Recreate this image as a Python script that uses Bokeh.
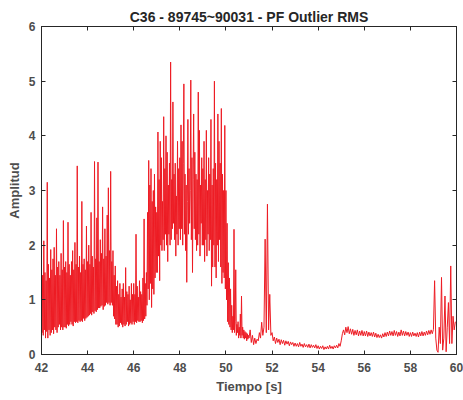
import numpy as np
from bokeh.plotting import figure
from bokeh.models import LinearAxis, FixedTicker, ColumnDataSource, Range1d
from bokeh.embed import file_html
from bokeh.resources import INLINE

title_text = "C36 - 89745~90031 - PF Outlier RMS"
x_label = "Tiempo [s]"
y_label = "Amplitud"
x_ticks = [42, 44, 46, 48, 50, 52, 54, 56, 58, 60]
y_ticks = [0, 1, 2, 3, 4, 5, 6]

# sampling: dense part 42-51 s (step 0.025 s), calm part 51-60 s (step 0.05 s)
dense_start, dense_step = 42.0, 0.025
calm_start, calm_step = 51.0, 0.05

# amplitude, dense part: one row per second (42 ... 50)
amp_42 = [1.60, 0.40, 1.45, 0.35, 2.08, 0.45, 1.50, 0.30, 1.35, 0.42,
          3.15, 0.30, 1.65, 0.45, 1.40, 0.35, 1.92, 0.40, 1.55, 0.45,
          1.75, 0.38, 1.96, 0.50, 1.45, 0.45, 2.30, 0.40, 1.60, 0.50,
          1.70, 0.55, 1.45, 0.45, 1.85, 0.50, 1.55, 0.45, 2.45, 0.50]
amp_43 = [1.60, 0.50, 1.70, 0.48, 1.50, 0.55, 2.42, 0.52, 1.65, 0.55,
          1.45, 0.60, 1.70, 0.55, 1.90, 0.52, 1.55, 0.60, 2.05, 0.58,
          1.65, 0.60, 3.45, 0.58, 1.60, 0.62, 1.80, 0.60, 1.50, 0.62,
          2.80, 0.60, 1.65, 0.66, 1.75, 0.62, 1.55, 0.66, 2.35, 0.68]
amp_44 = [1.70, 0.70, 2.00, 0.72, 1.65, 0.75, 2.60, 0.72, 1.80, 0.78,
          1.60, 0.75, 3.53, 0.80, 1.75, 0.78, 2.50, 0.82, 3.52, 0.85,
          1.70, 0.85, 2.10, 0.88, 1.85, 0.90, 2.70, 0.82, 1.75, 0.88,
          2.30, 0.90, 1.80, 0.95, 2.55, 0.92, 3.05, 0.95, 1.90, 0.90]
amp_45 = [3.35, 0.95, 1.70, 0.90, 1.90, 0.70, 1.45, 0.65, 1.62, 0.55,
          1.25, 0.55, 1.35, 0.50, 1.10, 0.52, 1.30, 0.58, 1.05, 0.55,
          1.20, 0.50, 1.30, 0.55, 1.05, 0.52, 1.59, 0.55, 1.15, 0.60,
          1.10, 0.52, 1.25, 0.55, 1.00, 0.58, 1.30, 0.55, 1.10, 0.60]
amp_46 = [1.30, 0.55, 1.10, 0.60, 2.20, 0.58, 1.25, 0.62, 1.05, 0.60,
          1.35, 0.60, 1.15, 0.62, 1.10, 0.58, 1.40, 0.62, 2.48, 0.65,
          1.30, 0.70, 1.50, 0.90, 2.60, 1.20, 3.55, 1.00, 3.10, 1.30,
          3.40, 0.86, 2.80, 1.20, 3.00, 1.10, 3.30, 1.40, 2.70, 1.50]
amp_47 = [2.60, 1.50, 4.07, 1.80, 3.20, 1.35, 3.90, 2.00, 3.60, 1.90,
          2.80, 2.10, 4.35, 1.90, 3.40, 2.20, 4.00, 2.00, 3.70, 1.70,
          3.10, 2.20, 3.50, 2.00, 5.35, 2.10, 3.20, 2.30, 4.62, 2.40,
          3.30, 2.10, 3.50, 1.80, 2.90, 2.20, 3.90, 2.00, 3.40, 2.30]
amp_48 = [3.60, 2.10, 4.20, 2.30, 3.90, 2.00, 3.50, 4.95, 2.20, 3.30,
          1.90, 3.10, 1.32, 2.80, 4.30, 2.20, 3.40, 2.40, 3.00, 5.02,
          2.10, 3.60, 1.50, 3.20, 4.40, 2.30, 3.70, 2.10, 3.30, 1.90,
          3.20, 2.00, 4.80, 2.20, 4.10, 1.80, 3.10, 2.40, 3.60, 2.00]
amp_49 = [3.40, 2.00, 3.90, 1.70, 3.20, 2.10, 4.10, 1.80, 3.00, 2.20,
          3.60, 1.90, 3.30, 2.10, 4.30, 1.25, 3.10, 1.60, 3.40, 2.00,
          5.00, 1.60, 3.50, 1.40, 3.20, 2.00, 4.40, 1.70, 3.90, 2.10,
          3.50, 1.60, 4.50, 1.30, 3.30, 1.50, 3.00, 1.40, 4.19, 1.20]
amp_50 = [3.00, 1.00, 2.40, 0.60, 1.68, 0.55, 1.40, 0.50, 1.20, 0.45,
          0.90, 0.40, 0.70, 0.45, 2.29, 0.40, 0.60, 1.55, 0.35, 0.55,
          0.40, 0.60, 0.30, 0.50, 0.35, 0.74, 0.30, 1.07, 0.35, 0.50,
          0.30, 0.45, 0.28, 0.42, 0.30, 0.40, 0.25, 0.38, 0.28, 0.35]

# calm part: one row per second (51 ... 59)
amp_51 = [0.30, 0.45, 0.22, 0.35, 0.18, 0.30, 0.20, 0.28, 0.25, 0.40, 0.30, 0.59, 0.35, 0.50, 2.11, 0.40, 2.75, 0.45, 1.10, 0.35]
amp_52 = [0.40, 0.25, 0.32, 0.20, 0.30, 0.22, 0.28, 0.18, 0.27, 0.20, 0.26, 0.17, 0.25, 0.19, 0.24, 0.16, 0.23, 0.18, 0.22, 0.15]
amp_53 = [0.21, 0.15, 0.20, 0.14, 0.22, 0.15, 0.19, 0.13, 0.20, 0.14, 0.18, 0.13, 0.19, 0.12, 0.18, 0.13, 0.17, 0.12, 0.18, 0.11]
amp_54 = [0.16, 0.10, 0.15, 0.11, 0.16, 0.09, 0.14, 0.10, 0.15, 0.10, 0.17, 0.11, 0.15, 0.10, 0.16, 0.12, 0.17, 0.12, 0.20, 0.15]
amp_55 = [0.25, 0.38, 0.45, 0.36, 0.50, 0.40, 0.51, 0.38, 0.47, 0.37, 0.46, 0.35, 0.44, 0.36, 0.45, 0.34, 0.43, 0.35, 0.44, 0.34]
amp_56 = [0.42, 0.34, 0.43, 0.33, 0.41, 0.34, 0.40, 0.33, 0.41, 0.32, 0.39, 0.31, 0.37, 0.31, 0.36, 0.30, 0.38, 0.32, 0.40, 0.33]
amp_57 = [0.41, 0.34, 0.43, 0.35, 0.42, 0.34, 0.44, 0.35, 0.42, 0.33, 0.41, 0.34, 0.45, 0.35, 0.43, 0.34, 0.42, 0.35, 0.41, 0.33]
amp_58 = [0.40, 0.33, 0.41, 0.34, 0.39, 0.33, 0.40, 0.32, 0.41, 0.34, 0.42, 0.34, 0.41, 0.35, 0.43, 0.36, 0.44, 0.37, 0.45, 0.38]
amp_59 = [0.46, 1.35, 0.30, 0.08, 0.04, 0.50, 0.20, 1.41, 0.08, 0.30, 1.07, 0.05, 0.50, 0.95, 0.20, 1.62, 0.20, 0.70, 0.45, 0.60]

dense_amp = amp_42 + amp_43 + amp_44 + amp_45 + amp_46 + amp_47 + amp_48 + amp_49 + amp_50
calm_amp = amp_51 + amp_52 + amp_53 + amp_54 + amp_55 + amp_56 + amp_57 + amp_58 + amp_59

time = np.concatenate([dense_start + dense_step * np.arange(len(dense_amp)),
                       calm_start + calm_step * np.arange(len(calm_amp))])
amplitude = dense_amp + calm_amp

src = ColumnDataSource(dict(t=time, a=amplitude))

FONT = "Liberation Sans"
AX_COLOR = "#262626"
LBL_COLOR = "#4d4d4d"

p = figure(width=463, height=400, output_backend="svg", toolbar_location=None,
           x_range=Range1d(42, 60), y_range=Range1d(0, 6),
           min_border_left=41, min_border_right=7, min_border_top=26, min_border_bottom=46)

p.line("t", "a", source=src, line_color="#ED1C24", line_width=1)

p.title.text = title_text
p.title.align = "center"
p.title.text_font = FONT
p.title.text_font_size = "14px"
p.title.text_font_style = "bold"
p.title.text_color = "#262626"
p.title.standoff = 3

p.xgrid.visible = False
p.ygrid.visible = False
p.outline_line_color = AX_COLOR
p.outline_line_width = 1
p.outline_line_alpha = 1
p.background_fill_color = "white"
p.border_fill_color = "white"

def style(ax):
    ax.axis_line_color = AX_COLOR
    ax.major_tick_line_color = AX_COLOR
    ax.major_tick_in = 4
    ax.major_tick_out = 0
    ax.minor_tick_line_color = None
    ax.major_label_text_font = FONT
    ax.major_label_text_font_size = "12px"
    ax.major_label_text_font_style = "bold"
    ax.major_label_text_color = LBL_COLOR
    ax.axis_label_text_font = FONT
    ax.axis_label_text_font_size = "13px"
    ax.axis_label_text_font_style = "bold"
    ax.axis_label_text_color = LBL_COLOR

xa = p.xaxis[0]
ya = p.yaxis[0]
xa.ticker = FixedTicker(ticks=x_ticks)
ya.ticker = FixedTicker(ticks=y_ticks)
style(xa)
style(ya)
xa.axis_label = x_label
ya.axis_label = y_label
xa.major_label_standoff = 8
xa.axis_label_standoff = 4
ya.major_label_standoff = 6
ya.axis_label_standoff = 4

# box ticks on top and right (no labels)
top = LinearAxis(ticker=FixedTicker(ticks=x_ticks))
right = LinearAxis(ticker=FixedTicker(ticks=y_ticks))
for ax in (top, right):
    style(ax)
    ax.major_label_text_font_size = "1px"
    ax.major_label_text_color = None
    ax.major_label_standoff = 0
p.add_layout(top, "above")
p.add_layout(right, "right")

open("out.html", "w").write(file_html(p, INLINE))
